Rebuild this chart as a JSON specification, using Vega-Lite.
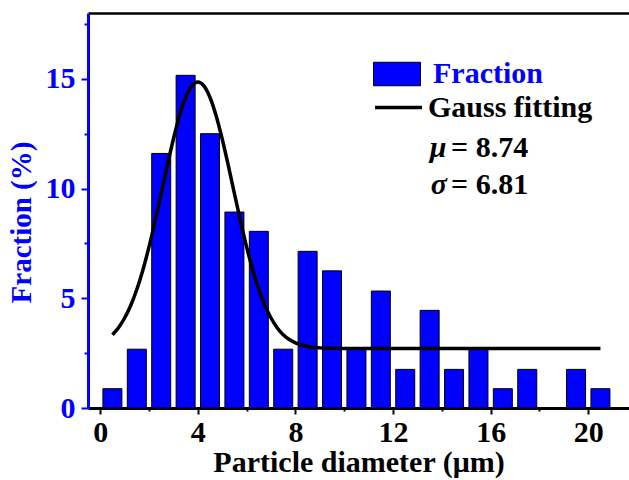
{
  "$schema": "https://vega.github.io/schema/vega-lite/v6.json",
  "width": 541,
  "height": 395,
  "autosize": {"type": "none"},
  "padding": {"left": 88, "top": 13, "right": 0, "bottom": 72},
  "background": "white",
  "config": {
    "view": {"stroke": null},
    "font": "Liberation Serif",
    "axis": {"grid": false}
  },
  "datasets": {
    "bars": [
      {"diameter": 0.5, "fraction": 0.88},
      {"diameter": 1.5, "fraction": 2.68},
      {"diameter": 2.5, "fraction": 11.6},
      {"diameter": 3.5, "fraction": 15.16},
      {"diameter": 4.5, "fraction": 12.5},
      {"diameter": 5.5, "fraction": 8.93},
      {"diameter": 6.5, "fraction": 8.05},
      {"diameter": 7.5, "fraction": 2.68},
      {"diameter": 8.5, "fraction": 7.14},
      {"diameter": 9.5, "fraction": 6.25},
      {"diameter": 10.5, "fraction": 2.68},
      {"diameter": 11.5, "fraction": 5.33},
      {"diameter": 12.5, "fraction": 1.76},
      {"diameter": 13.5, "fraction": 4.45},
      {"diameter": 14.5, "fraction": 1.76},
      {"diameter": 15.5, "fraction": 2.68},
      {"diameter": 16.5, "fraction": 0.88},
      {"diameter": 17.5, "fraction": 1.76},
      {"diameter": 18.5, "fraction": 0},
      {"diameter": 19.5, "fraction": 1.76},
      {"diameter": 20.5, "fraction": 0.88}
    ],
    "fit": [
      {"diameter": 0.5, "fraction": 3.34},
      {"diameter": 0.75, "fraction": 3.66},
      {"diameter": 1.0, "fraction": 4.10},
      {"diameter": 1.25, "fraction": 4.67},
      {"diameter": 1.5, "fraction": 5.40},
      {"diameter": 1.75, "fraction": 6.29},
      {"diameter": 2.0, "fraction": 7.34},
      {"diameter": 2.25, "fraction": 8.52},
      {"diameter": 2.5, "fraction": 9.77},
      {"diameter": 2.75, "fraction": 11.05},
      {"diameter": 3.0, "fraction": 12.26},
      {"diameter": 3.25, "fraction": 13.32},
      {"diameter": 3.5, "fraction": 14.15},
      {"diameter": 3.75, "fraction": 14.68},
      {"diameter": 4.0, "fraction": 14.86},
      {"diameter": 4.25, "fraction": 14.68},
      {"diameter": 4.5, "fraction": 14.15},
      {"diameter": 4.75, "fraction": 13.32},
      {"diameter": 5.0, "fraction": 12.26},
      {"diameter": 5.25, "fraction": 11.05},
      {"diameter": 5.5, "fraction": 9.77},
      {"diameter": 5.75, "fraction": 8.52},
      {"diameter": 6.0, "fraction": 7.34},
      {"diameter": 6.25, "fraction": 6.29},
      {"diameter": 6.5, "fraction": 5.40},
      {"diameter": 6.75, "fraction": 4.67},
      {"diameter": 7.0, "fraction": 4.10},
      {"diameter": 7.25, "fraction": 3.66},
      {"diameter": 7.5, "fraction": 3.34},
      {"diameter": 7.75, "fraction": 3.12},
      {"diameter": 8.0, "fraction": 2.97},
      {"diameter": 8.25, "fraction": 2.87},
      {"diameter": 8.5, "fraction": 2.80},
      {"diameter": 9.0, "fraction": 2.74},
      {"diameter": 9.5, "fraction": 2.72},
      {"diameter": 10.0, "fraction": 2.71},
      {"diameter": 12.0, "fraction": 2.71},
      {"diameter": 14.0, "fraction": 2.71},
      {"diameter": 16.0, "fraction": 2.71},
      {"diameter": 18.0, "fraction": 2.71},
      {"diameter": 20.5, "fraction": 2.71}
    ],
    "note": [{"k": 1}]
  },
  "layer": [
    {
      "data": {"name": "bars"},
      "mark": {"type": "bar", "size": 19, "stroke": "#000000", "strokeWidth": 1},
      "encoding": {
        "x": {
          "field": "diameter", "type": "quantitative",
          "scale": {"domain": [-0.5, 21.67], "nice": false, "zero": false, "padding": 0},
          "axis": {
            "orient": "bottom", "values": [0, 4, 8, 12, 16, 20],
            "tickSize": 6, "tickWidth": 2, "tickColor": "#000000",
            "domainWidth": 3, "domainColor": "#000000",
            "labelFont": "Liberation Serif", "labelFontSize": 30, "labelFontWeight": "bold", "labelColor": "#000000", "labelPadding": 3,
            "title": "Particle diameter (μm)", "titleFont": "Liberation Serif", "titleFontSize": 30, "titleFontWeight": "bold", "titleColor": "#000000", "titlePadding": 0
          }
        },
        "y": {
          "field": "fraction", "type": "quantitative",
          "scale": {"domain": [0, 18], "nice": false, "padding": 0},
          "axis": {
            "orient": "left", "values": [0, 5, 10, 15],
            "tickSize": 7, "tickWidth": 2, "tickColor": "#0000ff",
            "domainWidth": 3, "domainColor": "#0000ff",
            "labelFont": "Liberation Serif", "labelFontSize": 30, "labelFontWeight": "bold", "labelColor": "#0000ff", "labelPadding": 6,
            "title": "Fraction (%)", "titleFont": "Liberation Serif", "titleFontSize": 29, "titleFontWeight": "bold", "titleColor": "#0000ff", "titlePadding": 9, "titleY": 209
          }
        },
        "fill": {
          "datum": "Fraction", "type": "nominal",
          "scale": {"range": ["#0000ff"]},
          "legend": {
            "title": null, "orient": "none", "legendX": 285, "legendY": 37, "padding": 0,
            "symbolType": "M-1,-0.5H1V0.5H-1Z", "symbolSize": 2209,
            "symbolFillColor": "#0000ff", "symbolStrokeColor": "#000000", "symbolStrokeWidth": 1,
            "labelFont": "Liberation Serif", "labelFontSize": 30, "labelFontWeight": "bold", "labelColor": "#0000ff", "labelOffset": 12, "labelLimit": 0
          }
        }
      }
    },
    {
      "data": {"name": "fit"},
      "mark": {"type": "line", "strokeWidth": 3.5, "interpolate": "monotone"},
      "encoding": {
        "x": {
          "field": "diameter", "type": "quantitative",
          "scale": {"domain": [-0.5, 21.67], "nice": false, "zero": false, "padding": 0},
          "axis": {"orient": "bottom", "values": [2, 6, 10, 14, 18], "tickSize": 3, "tickWidth": 2, "tickColor": "#000000", "labels": false, "domain": false, "title": null}
        },
        "y": {
          "field": "fraction", "type": "quantitative",
          "scale": {"domain": [0, 18], "nice": false, "padding": 0},
          "axis": {"orient": "left", "values": [2.5, 7.5, 12.5, 17.5], "tickSize": 4, "tickWidth": 2, "tickColor": "#0000ff", "labels": false, "domain": false, "title": null}
        },
        "stroke": {
          "datum": "Gauss fitting", "type": "nominal",
          "scale": {"range": ["#000000"]},
          "legend": {
            "title": null, "orient": "none", "legendX": 285, "legendY": 69, "padding": 0,
            "symbolType": "stroke", "symbolSize": 2209, "symbolStrokeWidth": 3.5, "symbolStrokeColor": "#000000",
            "labelFont": "Liberation Serif", "labelFontSize": 30, "labelFontWeight": "bold", "labelColor": "#000000", "labelOffset": 4, "labelLimit": 0
          }
        }
      }
    },
    {
      "data": {"name": "note"},
      "mark": {"type": "text", "text": "μ", "align": "left", "baseline": "alphabetic", "font": "Liberation Serif", "fontSize": 30, "fontWeight": "bold", "fontStyle": "italic", "color": "#000000"},
      "encoding": {
        "x": {"datum": 13.5, "type": "quantitative", "scale": {"domain": [-0.5, 21.67], "nice": false, "zero": false, "padding": 0},
          "axis": {"orient": "top", "ticks": false, "labels": false, "domainWidth": 2.5, "domainColor": "#000000", "title": null}},
        "y": {"datum": 11.43, "type": "quantitative", "axis": null}
      }
    },
    {
      "data": {"name": "note"},
      "mark": {"type": "text", "text": "= 8.74", "align": "left", "baseline": "alphabetic", "font": "Liberation Serif", "fontSize": 30, "fontWeight": "bold", "color": "#000000"},
      "encoding": {
        "x": {"datum": 14.38, "type": "quantitative", "axis": null},
        "y": {"datum": 11.43, "type": "quantitative", "axis": null}
      }
    },
    {
      "data": {"name": "note"},
      "mark": {"type": "text", "text": "σ", "align": "left", "baseline": "alphabetic", "font": "Liberation Serif", "fontSize": 30, "fontWeight": "bold", "fontStyle": "italic", "color": "#000000"},
      "encoding": {
        "x": {"datum": 13.55, "type": "quantitative", "axis": null},
        "y": {"datum": 9.73, "type": "quantitative", "axis": null}
      }
    },
    {
      "data": {"name": "note"},
      "mark": {"type": "text", "text": "= 6.81", "align": "left", "baseline": "alphabetic", "font": "Liberation Serif", "fontSize": 30, "fontWeight": "bold", "color": "#000000"},
      "encoding": {
        "x": {"datum": 14.38, "type": "quantitative", "axis": null},
        "y": {"datum": 9.73, "type": "quantitative", "axis": null}
      }
    }
  ],
  "resolve": {"axis": {"x": "independent", "y": "independent"}}
}
